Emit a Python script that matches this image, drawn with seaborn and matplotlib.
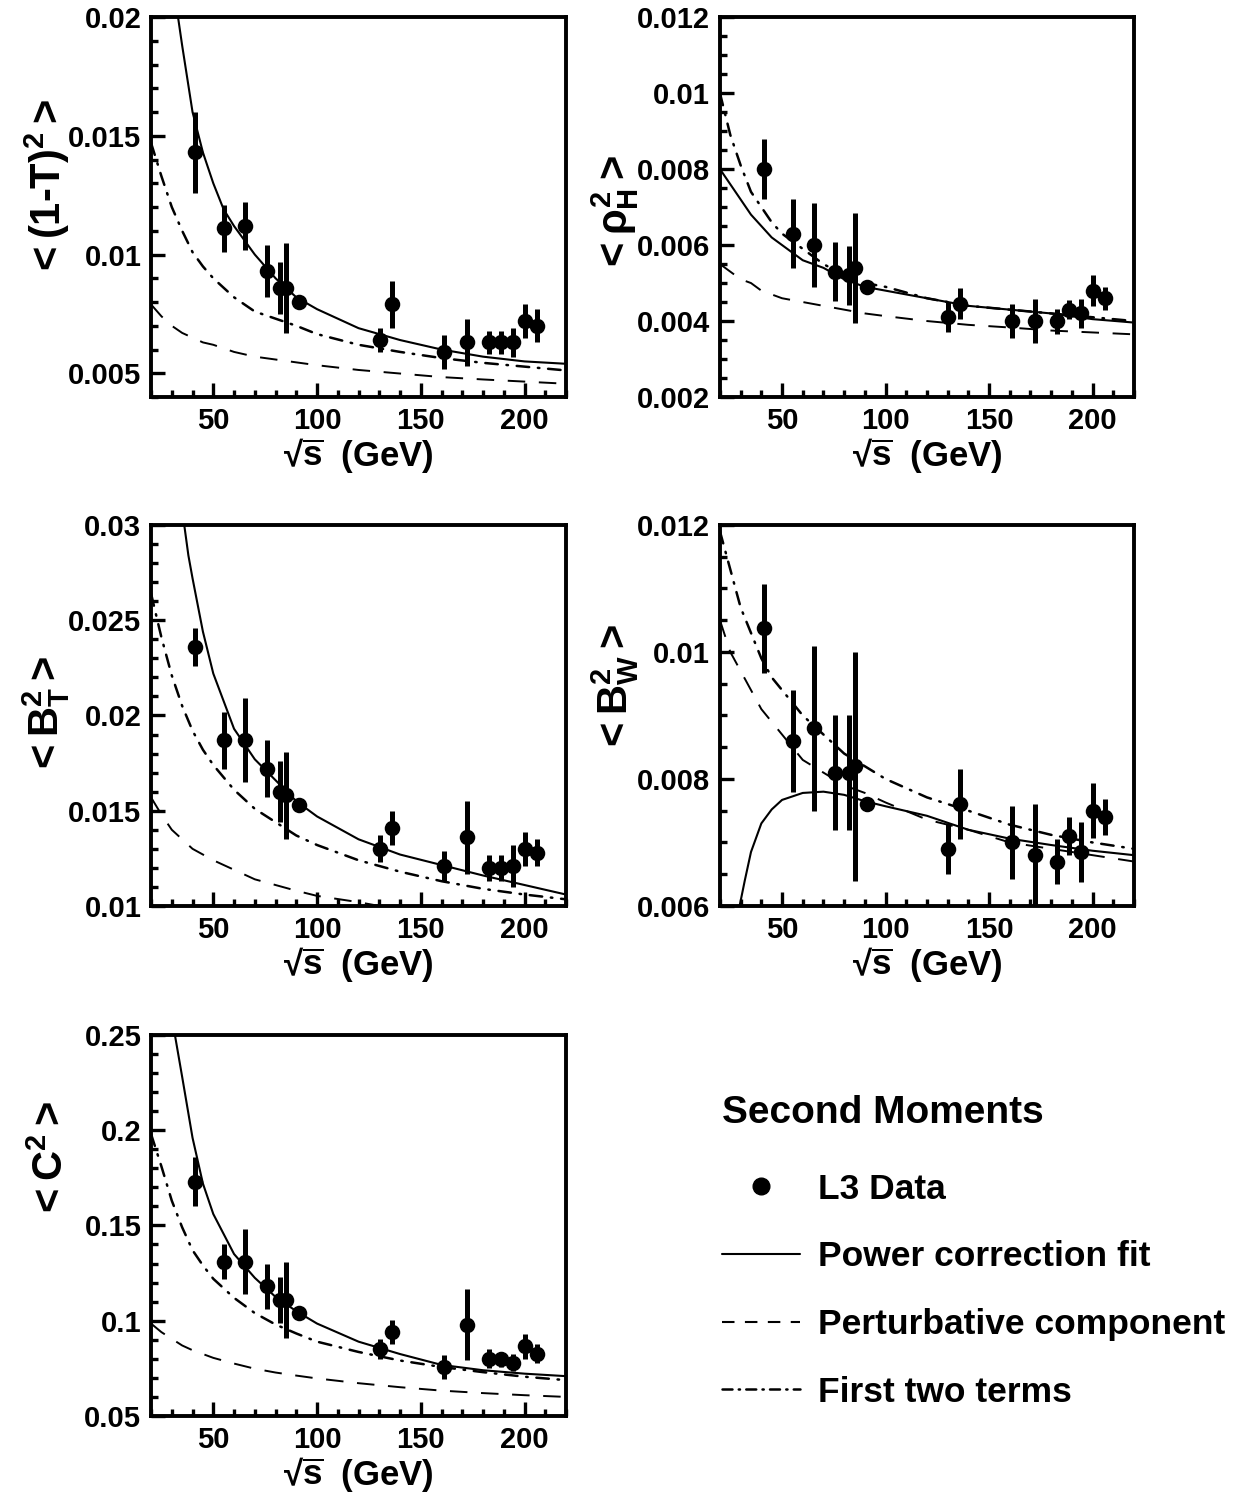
import matplotlib
matplotlib.use("Agg")
import matplotlib.pyplot as plt
from matplotlib.lines import Line2D
from matplotlib.ticker import MultipleLocator, FuncFormatter
import seaborn as sns

# --- data ---
E_CM = [41.4, 55.3, 65.4, 75.7, 82.3, 85.1, 91.2, 130.1, 136.1, 161.3,
        172.3, 182.8, 188.6, 194.4, 200.2, 206.2]

# shared x grid for the perturbative / first-two-terms curves
XG = [20, 25, 30, 35, 40, 45, 50, 60, 70, 80, 90, 100, 120, 140, 160, 180, 200, 220]

# <(1-T)^2>
THR_VAL = [0.0143, 0.0111, 0.0112, 0.0093, 0.0086, 0.0086, 0.0080, 0.0064, 0.0079, 0.0059,
           0.0063, 0.0063, 0.0063, 0.0063, 0.0072, 0.0070]
THR_ERR = [0.0017, 0.0010, 0.0010, 0.0011, 0.0011, 0.0019, 0.0001, 0.0005, 0.0010, 0.0007,
           0.0010, 0.0005, 0.0005, 0.0006, 0.0007, 0.0007]
THR_FIT_X = [33, 35, 40, 45, 50, 55, 60, 70, 80, 90, 100, 120, 140, 160, 180, 200, 220]
THR_FIT = [0.0200, 0.0188, 0.0160, 0.0143, 0.0130, 0.0119, 0.0112, 0.0100, 0.0090, 0.0082,
           0.0077, 0.0069, 0.0064, 0.0060, 0.0057, 0.0055, 0.0054]
THR_PERT = [0.0079, 0.0074, 0.0070, 0.0067, 0.0065, 0.0063, 0.0062, 0.0059, 0.0057, 0.00558,
            0.00546, 0.00534, 0.00514, 0.00499, 0.00484, 0.00474, 0.00465, 0.00456]
THR_TWO = [0.0147, 0.0133, 0.0120, 0.0110, 0.0101, 0.0095, 0.0090, 0.0082, 0.0076, 0.0073,
           0.0070, 0.00665, 0.0062, 0.0059, 0.00564, 0.00544, 0.00528, 0.00512]

# <rho_H^2>
RHO_VAL = [0.0080, 0.0063, 0.0060, 0.0053, 0.0052, 0.0054, 0.0049, 0.0041, 0.00446, 0.0040,
           0.0040, 0.0040, 0.0043, 0.0042, 0.0048, 0.0046]
RHO_ERR = [0.0008, 0.0009, 0.0011, 0.00078, 0.00078, 0.00145, 0.0001, 0.0004, 0.0004, 0.00044,
           0.00058, 0.00033, 0.00025, 0.00038, 0.0004, 0.0003]
RHO_FIT_X = XG
RHO_FIT = [0.0080, 0.0076, 0.0072, 0.0068, 0.0065, 0.0062, 0.0060, 0.0056, 0.0054, 0.0051,
           0.0049, 0.0048, 0.0046, 0.0044, 0.0043, 0.0042, 0.00405, 0.00396]
RHO_PERT = [0.0055, 0.0053, 0.0051, 0.0050, 0.0048, 0.0047, 0.0046, 0.0045, 0.0044, 0.0043,
            0.0042, 0.00413, 0.0040, 0.0039, 0.00383, 0.00375, 0.0037, 0.00365]
RHO_TWO = [0.0100, 0.0089, 0.0081, 0.0074, 0.0070, 0.0066, 0.0063, 0.0059, 0.0055, 0.0052,
           0.0050, 0.0049, 0.0046, 0.0044, 0.0043, 0.0042, 0.0041, 0.0040]

# <B_T^2>
BT_VAL = [0.0236, 0.0187, 0.0187, 0.0172, 0.0160, 0.0158, 0.0153, 0.0130, 0.0141, 0.0121,
          0.0136, 0.0120, 0.0120, 0.0121, 0.0130, 0.0128]
BT_ERR = [0.0010, 0.0015, 0.0022, 0.0015, 0.0016, 0.0023, 0.0001, 0.0007, 0.0009, 0.0008,
          0.0019, 0.0007, 0.0007, 0.0011, 0.0009, 0.0007]
BT_FIT_X = [36, 38, 40, 45, 50, 60, 70, 80, 90, 100, 120, 140, 160, 180, 200, 220]
BT_FIT = [0.0300, 0.0284, 0.0272, 0.0244, 0.0222, 0.0193, 0.0177, 0.0166, 0.0155, 0.0147,
          0.0135, 0.0127, 0.01215, 0.0116, 0.0111, 0.0106]
BT_PERT_X = [20, 25, 30, 35, 40, 45, 50, 60, 70, 80, 90, 100, 120, 135]
BT_PERT = [0.0157, 0.0148, 0.0140, 0.0135, 0.0130, 0.0127, 0.0124, 0.0119, 0.0114, 0.0111,
           0.0108, 0.01053, 0.0102, 0.0099]
BT_TWO = [0.0264, 0.0241, 0.0221, 0.0205, 0.0192, 0.0182, 0.0174, 0.0161, 0.0151, 0.0144,
          0.0137, 0.0132, 0.0124, 0.0118, 0.0113, 0.0109, 0.0106, 0.01035]

# <B_W^2>
BW_VAL = [0.01037, 0.0086, 0.0088, 0.0081, 0.0081, 0.0082, 0.0076, 0.0069, 0.0076, 0.0070,
          0.0068, 0.0067, 0.0071, 0.00685, 0.0075, 0.0074]
BW_ERR = [0.0007, 0.0008, 0.0013, 0.0009, 0.0009, 0.0018, 0.0001, 0.0004, 0.00055, 0.00057,
          0.0008, 0.00035, 0.0003, 0.00047, 0.00043, 0.00029]
BW_FIT_X = [29.5, 32, 35, 40, 45, 50, 60, 70, 80, 90, 100, 120, 140, 160, 180, 200, 220]
BW_FIT = [0.0060, 0.0064, 0.00685, 0.0073, 0.00752, 0.00767, 0.00778, 0.0078, 0.00775, 0.00765,
          0.00757, 0.00742, 0.0072, 0.00706, 0.00696, 0.00687, 0.0068]
BW_PERT = [0.0105, 0.0100, 0.0097, 0.0094, 0.0091, 0.0089, 0.0087, 0.0083, 0.0081, 0.0079,
           0.00778, 0.00763, 0.00736, 0.0072, 0.0070, 0.0069, 0.0068, 0.0067]
BW_TWO = [0.0119, 0.0113, 0.0107, 0.0103, 0.0099, 0.0096, 0.0094, 0.0090, 0.0087, 0.0084,
          0.0082, 0.0080, 0.00771, 0.0075, 0.00728, 0.00712, 0.0070, 0.0069]

# <C^2>
C_VAL = [0.173, 0.131, 0.131, 0.118, 0.111, 0.111, 0.104, 0.085, 0.094, 0.0757,
         0.098, 0.080, 0.0797, 0.078, 0.0866, 0.0827]
C_ERR = [0.013, 0.009, 0.017, 0.012, 0.012, 0.020, 0.001, 0.0053, 0.0062, 0.0062,
         0.0185, 0.005, 0.0039, 0.0044, 0.0066, 0.005]
C_FIT_X = [31.5, 35, 40, 45, 50, 60, 70, 80, 90, 100, 120, 140, 160, 180, 200, 220]
C_FIT = [0.250, 0.228, 0.196, 0.172, 0.156, 0.135, 0.1225, 0.1125, 0.105, 0.0985,
         0.089, 0.0825, 0.0768, 0.0740, 0.0722, 0.0709]
C_PERT = [0.0985, 0.094, 0.0905, 0.087, 0.0845, 0.0825, 0.0805, 0.0775, 0.0748, 0.0728,
          0.0712, 0.0697, 0.0672, 0.0651, 0.0633, 0.0620, 0.0609, 0.0600]
C_TWO = [0.198, 0.181, 0.163, 0.149, 0.137, 0.129, 0.122, 0.112, 0.104, 0.098,
         0.0933, 0.089, 0.0836, 0.0791, 0.0757, 0.0730, 0.0706, 0.0688]

YLABELS = [
    r"$<\mathbf{(1}$-$\mathbf{T)}^{\mathbf{2}}>$",
    r"$<\rho^{\mathbf{2}}_{\mathbf{H}}>$",
    r"$<\mathbf{B}^{\mathbf{2}}_{\mathbf{T}}>$",
    r"$<\mathbf{B}^{\mathbf{2}}_{\mathbf{W}}>$",
    r"$<\mathbf{C}^{\mathbf{2}}>$",
]
XLABEL = r"√$\overline{\mathbf{s}}$  (GeV)"

# --- style ---
sns.set_theme(style="ticks")
plt.rcParams["font.family"] = ["Liberation Sans", "DejaVu Sans"]
plt.rcParams["font.weight"] = "bold"
plt.rcParams["mathtext.fontset"] = "custom"
plt.rcParams["mathtext.rm"] = "Liberation Sans"
plt.rcParams["mathtext.it"] = "Liberation Sans"
plt.rcParams["mathtext.bf"] = "Liberation Sans:bold"
plt.rcParams["mathtext.sf"] = "Liberation Sans"
for key in ["text.color", "axes.labelcolor", "xtick.color", "ytick.color", "axes.edgecolor"]:
    plt.rcParams[key] = "black"

SOLID = "-"
DASHED = (0, (9, 7))
DASHDOT = (0, (5, 3.5, 0.6, 3.5))

fig = plt.figure(figsize=(12.37, 14.96), dpi=100)

# axes boxes in figure fractions [left, bottom, width, height]
boxes = [
    [0.1221, 0.7346, 0.3355, 0.2540],
    [0.5820, 0.7346, 0.3347, 0.2540],
    [0.1221, 0.3944, 0.3355, 0.2547],
    [0.5820, 0.3944, 0.3347, 0.2547],
    [0.1221, 0.0535, 0.3355, 0.2547],
]
ylims = [(0.004, 0.02), (0.002, 0.012), (0.01, 0.03), (0.006, 0.012), (0.05, 0.25)]
ymajor = [0.005, 0.002, 0.005, 0.002, 0.05]
yminor = [0.001, 0.0005, 0.001, 0.0005, 0.01]
ylab_y = [0.55, 0.48, 0.50, 0.57, 0.67]

panels = [
    (THR_VAL, THR_ERR, THR_FIT_X, THR_FIT, XG, THR_PERT, THR_TWO),
    (RHO_VAL, RHO_ERR, RHO_FIT_X, RHO_FIT, XG, RHO_PERT, RHO_TWO),
    (BT_VAL, BT_ERR, BT_FIT_X, BT_FIT, BT_PERT_X, BT_PERT, BT_TWO),
    (BW_VAL, BW_ERR, BW_FIT_X, BW_FIT, XG, BW_PERT, BW_TWO),
    (C_VAL, C_ERR, C_FIT_X, C_FIT, XG, C_PERT, C_TWO),
]

for i, (vals, errs, fx, fit, px, pert, two) in enumerate(panels):
    ax = fig.add_axes(boxes[i])
    sns.lineplot(x=XG, y=two, ax=ax, color="black", linewidth=1.8,
                 linestyle=DASHDOT, dash_capstyle="round", sort=False, errorbar=None)
    sns.lineplot(x=px, y=pert, ax=ax, color="black", linewidth=1.4,
                 linestyle=DASHED, sort=False, errorbar=None)
    sns.lineplot(x=fx, y=fit, ax=ax, color="black", linewidth=1.5,
                 linestyle=SOLID, sort=False, errorbar=None)
    ax.errorbar(E_CM, vals, yerr=errs, fmt="none", ecolor="black",
                elinewidth=3.6, capsize=0, zorder=4)
    sns.scatterplot(x=E_CM, y=vals, ax=ax, color="black", s=125,
                    edgecolor="black", linewidth=0, zorder=5)

    ax.set_xlim(20, 220)
    ax.set_ylim(*ylims[i])
    ax.xaxis.set_major_locator(MultipleLocator(50))
    ax.xaxis.set_minor_locator(MultipleLocator(10))
    ax.yaxis.set_major_locator(MultipleLocator(ymajor[i]))
    ax.yaxis.set_minor_locator(MultipleLocator(yminor[i]))
    ax.yaxis.set_major_formatter(FuncFormatter(lambda v, p: f"{v:g}"))
    ax.tick_params(which="major", direction="in", length=10, width=2.4,
                   labelsize=21, pad=7, top=False, right=False)
    ax.tick_params(which="minor", direction="in", length=5, width=2.4,
                   top=False, right=False)
    for lab in ax.get_xticklabels() + ax.get_yticklabels():
        lab.set_fontweight("bold")
    for sp in ax.spines.values():
        sp.set_linewidth(2.8)
        sp.set_visible(True)

    ax.set_xlabel(XLABEL, fontsize=25, fontweight="bold", labelpad=1)
    ax.set_ylabel(YLABELS[i], fontsize=30, fontweight="bold")
    ax.yaxis.set_label_coords(-0.19, ylab_y[i])

# legend
handles = [
    Line2D([], [], color="black", marker="o", markersize=12, linestyle="none"),
    Line2D([], [], color="black", linewidth=1.5, linestyle=SOLID),
    Line2D([], [], color="black", linewidth=1.5, linestyle=(0, (6, 5))),
    Line2D([], [], color="black", linewidth=1.8, linestyle=(0, (4, 2.5, 0.5, 2.5)),
           dash_capstyle="round"),
]
labels = ["L3 Data", "Power correction fit", "Perturbative component", "First two terms"]
leg = fig.legend(handles, labels, loc="upper left", bbox_to_anchor=(0.5837, 0.268),
                 title="Second Moments", alignment="left", frameon=False,
                 prop={"size": 25.5, "weight": "bold"},
                 title_fontproperties={"size": 28, "weight": "bold"},
                 handlelength=2.2, handletextpad=0.5, labelspacing=0.98,
                 borderpad=0, borderaxespad=0)
leg._legend_box.sep = 30

fig.savefig("out.png", dpi=100)
